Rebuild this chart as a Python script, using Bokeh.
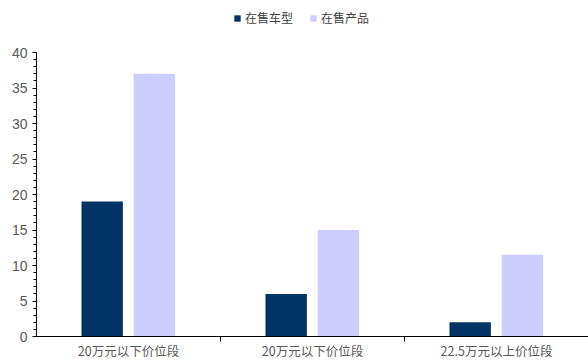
import numpy as np
from bokeh.plotting import figure
from bokeh.models import ColumnDataSource, FixedTicker, Legend, LegendItem, Range1d
from bokeh.embed import file_html
from bokeh.resources import INLINE

categories = ["20万元以下价位段", "20万元以下价位段", "22.5万元以上价位段"]
series_names = ["在售车型", "在售产品"]
models_on_sale = [19, 6, 2]
products_on_sale = [37, 15, 11.5]
y_ticks = [0, 5, 10, 15, 20, 25, 30, 35, 40]

centers = np.arange(len(categories)) + 0.5

# frame spans full height above the x axis; y axis drawn only for 0..40
frame_h = 363 - 27
y_top = 40 * frame_h / 284.0

p = figure(width=588, height=363, output_backend="svg", toolbar_location=None,
           x_range=Range1d(0, 3), y_range=Range1d(0, y_top),
           min_border_left=36, min_border_right=0, min_border_top=0, min_border_bottom=27)
p.outline_line_color = None
p.xgrid.visible = False
p.ygrid.visible = False
p.background_fill_color = "white"

src1 = ColumnDataSource(dict(x=centers - 0.143, top=models_on_sale))
src2 = ColumnDataSource(dict(x=centers + 0.141, top=products_on_sale))
r1 = p.vbar(x="x", top="top", width=0.225, source=src1, fill_color="#003366", line_color=None)
r2 = p.vbar(x="x", top="top", width=0.225, source=src2, fill_color="#CCCCFF", line_color=None)

# x axis
p.xaxis.ticker = FixedTicker(ticks=list(centers), minor_ticks=[1, 2])
p.xaxis.major_label_overrides = {float(c): lab for c, lab in zip(centers, categories)}
p.xaxis.major_tick_line_color = None
p.xaxis.major_tick_out = 0
p.xaxis.major_tick_in = 0
p.xaxis.minor_tick_in = 0
p.xaxis.minor_tick_out = 5
p.xaxis.minor_tick_line_color = "#000000"
p.xaxis.axis_line_color = "#000000"
p.xaxis.major_label_text_font = "Noto Sans CJK SC"
p.xaxis.major_label_text_font_size = "12.5px"
p.xaxis.major_label_text_color = "#595959"
p.xaxis.major_label_standoff = -1

# y axis
p.yaxis.ticker = FixedTicker(ticks=y_ticks, minor_ticks=list(range(0, 41)))
p.yaxis.bounds = (0, 40)
p.yaxis.major_tick_in = 0
p.yaxis.major_tick_out = 4
p.yaxis.minor_tick_in = 0
p.yaxis.minor_tick_out = 3
p.yaxis.axis_line_color = "#000000"
p.yaxis.major_tick_line_color = "#000000"
p.yaxis.minor_tick_line_color = "#000000"
p.yaxis.major_label_text_font = "Liberation Sans"
p.yaxis.major_label_text_font_size = "14px"
p.yaxis.major_label_text_color = "#595959"
p.yaxis.major_label_standoff = 5

legend = Legend(items=[LegendItem(label=series_names[0], renderers=[r1]),
                       LegendItem(label=series_names[1], renderers=[r2])],
                orientation="horizontal", location=(197, frame_h - 26),
                glyph_width=8, glyph_height=8, label_standoff=4, spacing=16,
                label_text_font="Noto Sans CJK SC", label_text_font_size="12px",
                label_text_color="#404040", background_fill_alpha=0,
                border_line_color=None, padding=0, margin=0)
p.add_layout(legend, "center")

open("out.html", "w").write(file_html(p, INLINE))
